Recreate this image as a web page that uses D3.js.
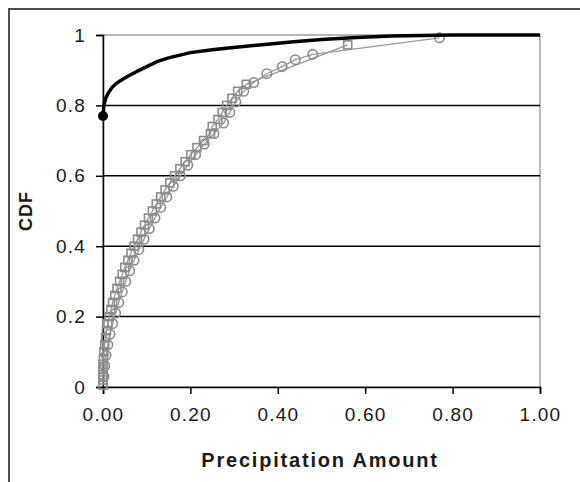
<!DOCTYPE html>
<html>
<head>
<meta charset="utf-8">
<script src="https://cdn.jsdelivr.net/npm/d3@7"></script>
<style>
  body { margin: 0; background: #fff; }
  svg { display: block; }
  text { font-family: Arial, "Liberation Sans", sans-serif; fill: #1a1a1a; }
</style>
</head>
<body>
<svg id="chart" width="580" height="482"></svg>
<script>
// observed CDF (black line), x / y
var obsX = [0, 0.002, 0.006, 0.012, 0.02, 0.03, 0.045, 0.06, 0.08, 0.1, 0.125, 0.15, 0.2, 0.25, 0.31, 0.37, 0.43, 0.5, 0.58, 0.66, 0.8, 1.0];
var obsY = [0.77, 0.8, 0.82, 0.835, 0.85, 0.862, 0.874, 0.885, 0.898, 0.91, 0.925, 0.935, 0.95, 0.958, 0.966, 0.973, 0.98, 0.987, 0.993, 0.997, 1.0, 1.0];

// fitted CDF, square markers
var sqX = [0, 0, 0, 0, 0, 0.001, 0.002, 0.004, 0.006, 0.008, 0.011, 0.014, 0.018, 0.022, 0.027, 0.032, 0.038, 0.044, 0.05, 0.057, 0.064, 0.071, 0.079, 0.087, 0.095, 0.104, 0.113, 0.122, 0.132, 0.142, 0.153, 0.164, 0.176, 0.188, 0.201, 0.215, 0.23, 0.246, 0.25, 0.263, 0.273, 0.283, 0.295, 0.308, 0.328, 0.56];
var sqY = [0.005, 0.02, 0.035, 0.05, 0.065, 0.08, 0.1, 0.12, 0.14, 0.16, 0.18, 0.2, 0.22, 0.24, 0.26, 0.28, 0.3, 0.32, 0.34, 0.36, 0.38, 0.4, 0.42, 0.44, 0.46, 0.48, 0.5, 0.52, 0.54, 0.56, 0.58, 0.6, 0.62, 0.64, 0.66, 0.68, 0.7, 0.72, 0.74, 0.76, 0.78, 0.8, 0.82, 0.84, 0.86, 0.972];

// fitted CDF, circle markers
var ciX = [0.002, 0.004, 0.007, 0.011, 0.016, 0.022, 0.029, 0.036, 0.044, 0.052, 0.061, 0.071, 0.082, 0.094, 0.106, 0.119, 0.132, 0.146, 0.161, 0.177, 0.194, 0.212, 0.232, 0.254, 0.276, 0.29, 0.304, 0.322, 0.345, 0.375, 0.41, 0.44, 0.48, 0.77];
var ciY = [0.03, 0.06, 0.09, 0.12, 0.15, 0.18, 0.21, 0.24, 0.27, 0.3, 0.33, 0.36, 0.39, 0.42, 0.45, 0.48, 0.51, 0.54, 0.57, 0.6, 0.63, 0.66, 0.69, 0.72, 0.75, 0.78, 0.81, 0.84, 0.865, 0.89, 0.91, 0.93, 0.945, 0.992];

var xTicks = [0, 0.2, 0.4, 0.6, 0.8, 1.0];
var yTicks = [0, 0.2, 0.4, 0.6, 0.8, 1];

var svg = d3.select("#chart");
var pLeft = 103, pRight = 540, pTop = 35, pBottom = 387;

var x = d3.scaleLinear().domain([0, 1]).range([pLeft, pRight]);
var y = d3.scaleLinear().domain([0, 1]).range([pBottom, pTop]);

// outer chart frame (runs off the picture on right / bottom)
svg.append("rect")
    .attr("x", 9).attr("y", 9)
    .attr("width", 620).attr("height", 520)
    .attr("fill", "#fff")
    .attr("stroke", "#505050")
    .attr("stroke-width", 2);

// plot area border (grey)
svg.append("rect")
    .attr("x", pLeft).attr("y", pTop)
    .attr("width", pRight - pLeft).attr("height", pBottom - pTop)
    .attr("fill", "none")
    .attr("stroke", "#a0a0a0")
    .attr("stroke-width", 1.5);

// gridlines
svg.append("g").selectAll("line")
    .data(yTicks.filter(function(d) { return d > 0 && d < 1; }))
    .enter()
    .append("line")
    .attr("x1", pLeft).attr("x2", pRight)
    .attr("y1", function(d) { return y(d); })
    .attr("y2", function(d) { return y(d); })
    .attr("stroke", "#000")
    .attr("stroke-width", 1.5);

// axes
var yAxis = svg.append("g")
    .attr("transform", "translate(" + pLeft + ",0)")
    .call(d3.axisLeft(y).tickValues(yTicks).tickSize(7).tickPadding(10)
        .tickFormat(function(d) { return d === 0 || d === 1 ? String(d) : d3.format(".1f")(d); }));
var xAxis = svg.append("g")
    .attr("transform", "translate(0," + pBottom + ")")
    .call(d3.axisBottom(x).tickValues(xTicks).tickSize(7).tickPadding(14)
        .tickFormat(d3.format(".2f")));
[yAxis, xAxis].forEach(function(a) {
    a.select(".domain").attr("stroke", "#000").attr("stroke-width", 1.5);
    a.selectAll(".tick line").attr("stroke", "#000").attr("stroke-width", 1.5);
    a.selectAll(".tick text")
        .attr("font-size", "19px")
        .attr("letter-spacing", "1.2px")
        .attr("fill", "#222")
        .style("font-family", "Arial, 'Liberation Sans', sans-serif");
});
xAxis.selectAll(".tick text").attr("dy", "0.71em");

// fitted series (grey)
var line = d3.line()
    .x(function(d) { return x(d[0]); })
    .y(function(d) { return y(d[1]); });
var sq = d3.zip(sqX, sqY);
var ci = d3.zip(ciX, ciY);

svg.append("path").datum(sq)
    .attr("d", line).attr("fill", "none")
    .attr("stroke", "#9a9a9a").attr("stroke-width", 1.3);
svg.append("path").datum(ci)
    .attr("d", line).attr("fill", "none")
    .attr("stroke", "#9a9a9a").attr("stroke-width", 1.3);

svg.append("g").selectAll("rect")
    .data(sq)
    .enter()
    .append("rect")
    .attr("x", function(d) { return x(d[0]) - 4; })
    .attr("y", function(d) { return y(d[1]) - 4; })
    .attr("width", 8).attr("height", 8)
    .attr("fill", "none")
    .attr("stroke", "#8c8c8c").attr("stroke-width", 1.6);
svg.append("g").selectAll("circle")
    .data(ci)
    .enter()
    .append("circle")
    .attr("cx", function(d) { return x(d[0]); })
    .attr("cy", function(d) { return y(d[1]); })
    .attr("r", 4.7)
    .attr("fill", "none")
    .attr("stroke", "#8c8c8c").attr("stroke-width", 1.6);

// observed series (black)
var obs = d3.zip(obsX, obsY);
svg.append("path").datum(obs)
    .attr("d", line).attr("fill", "none")
    .attr("stroke", "#000").attr("stroke-width", 3.5);
svg.append("circle")
    .attr("cx", x(obs[0][0])).attr("cy", y(obs[0][1]))
    .attr("r", 5).attr("fill", "#000");

// axis titles
svg.append("text")
    .attr("x", 320).attr("y", 467)
    .attr("text-anchor", "middle")
    .attr("font-size", "20px").attr("font-weight", "bold")
    .attr("letter-spacing", "1.8px")
    .text("Precipitation Amount");
svg.append("text")
    .attr("transform", "translate(32," + ((pTop + pBottom) / 2) + ") rotate(-90)")
    .attr("text-anchor", "middle")
    .attr("font-size", "18px").attr("font-weight", "bold")
    .attr("letter-spacing", "1px")
    .text("CDF");
</script>
</body>
</html>
